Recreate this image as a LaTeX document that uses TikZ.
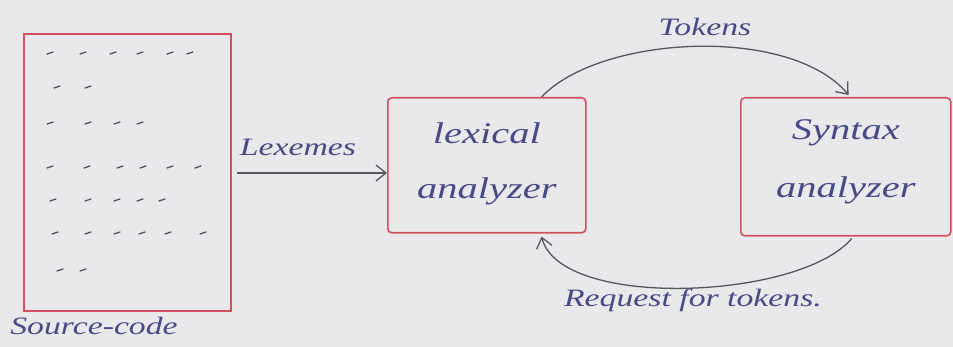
\documentclass[tikz,border=0pt]{standalone}
\usepackage{fontspec}
\usepackage{graphicx}
\setmainfont{Liberation Serif}
\usetikzlibrary{arrows.meta}
\definecolor{paper}{HTML}{E9E9EB}
\definecolor{redpen}{HTML}{D2505E}
\definecolor{bluepen}{HTML}{4A4A86}
\definecolor{graypen}{HTML}{55585E}
\newcommand{\wide}[1]{\scalebox{1.35}[1]{#1}}
\tikzset{
  box/.style={draw=redpen, line width=1.6pt, rounded corners=4pt},
  ink/.style={text=bluepen, font=\fontsize{30}{34}\selectfont\itshape, inner sep=0pt},
  smallink/.style={text=bluepen, font=\fontsize{25}{28}\selectfont\itshape, inner sep=0pt},
  conn/.style={draw=graypen, line width=1.3pt, -{Straight Barb[length=10pt,width=16pt]}},
  tick/.style={draw=graypen, line width=1.4pt, line cap=round}
}
\begin{document}
\begin{tikzpicture}[x=1pt,y=-1pt]
\fill[paper] (0,0) rectangle (953,347);
\useasboundingbox (0,0) rectangle (953,347);
% source code sheet
\node[box, rounded corners=0pt, minimum width=207pt, minimum height=277pt, anchor=north west] (src) at (23,33) {};
\node[smallink] (srclbl) at (94,326) {\wide{Source-code}};
% dashes
\foreach \y/\xs in {53/{50,83,113,140,170,190}, 87/{57,88}, 123/{50,88,117,140}, 167/{50,87,120,143,170,198}, 200/{53,88,117,140,162}, 233/{55,88,117,142,168,203}, 270/{60,83}} {
  \foreach \x in \xs { \draw[tick] (\x-3,\y+1) -- (\x+3,\y-1); }
}
% analyzers
\node[box, minimum width=198pt, minimum height=135pt, anchor=north west] (lex) at (387,97) {};
\node[ink] (lextxt1) at ([yshift=32pt]lex.center) {\wide{lexical}};
\node[ink] (lextxt2) at ([yshift=-26pt]lex.center) {\wide{analyzer}};
\node[box, minimum width=210pt, minimum height=138pt, anchor=north west] (syn) at (740,97) {};
\node[ink] (syntxt1) at ([yshift=34pt]syn.center) {\wide{Syntax}};
\node[ink] (syntxt2) at ([yshift=-24pt]syn.center) {\wide{analyzer}};
% lexemes arrow
\coordinate (lexstart) at (237,173);
\draw[conn] (lexstart) -- (lex.west |- lexstart);
\node[smallink] (lexlbl) at (298,147) {\wide{Lexemes}};
% tokens arc
\draw[conn] ([xshift=-45pt]lex.north east) .. controls (600,35) and (790,25) .. ([xshift=-103pt,yshift=2pt]syn.north east) ;
\node[smallink] (toklbl) at (705,27) {\wide{Tokens}};
% request arc
\draw[conn] ([xshift=-100pt,yshift=-2pt]syn.south east) .. controls (800,300) and (560,310) .. ([xshift=-45pt,yshift=-3pt]lex.south east);
\node[smallink] (reqlbl) at (693,300) {\wide{Request for tokens.}};
\end{tikzpicture}
\end{document}
